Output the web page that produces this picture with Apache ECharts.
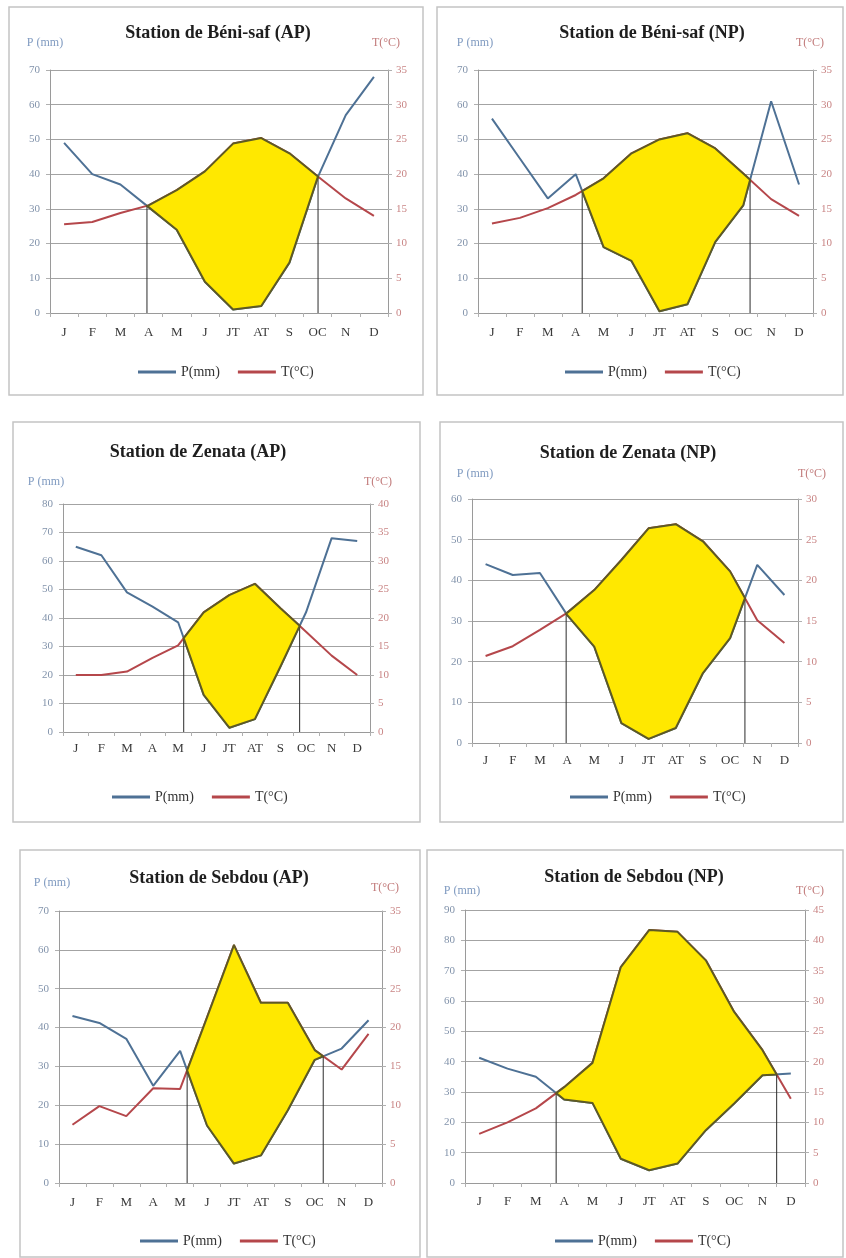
<!DOCTYPE html>
<html><head><meta charset="utf-8">
<script src="https://cdn.jsdelivr.net/npm/echarts@6/dist/echarts.min.js"></script>
<style>html,body{margin:0;padding:0;background:#fff}#c{width:846px;height:1258px}</style>
</head><body><div id="c"></div>
<script>
// ---------- data ----------
const months = ['J','F','M','A','M','J','JT','AT','S','OC','N','D'];
const seriesNames = ['P(mm)', 'T(°C)'];
const axisNames = ['P (mm)', 'T(°C)'];

const titleBeniAP = 'Station de Béni-saf (AP)';
const pBeniAP = [49, 40, 37, 30.5, 24, 9, 1, 2, 14.5, 39, 57, 68];
const tBeniAP = [12.8, 13.1, 14.4, 15.5, 17.7, 20.4, 24.4, 25.2, 23, 19.7, 16.5, 14];

const titleBeniNP = 'Station de Béni-saf (NP)';
const pBeniNP = [56, 44.5, 33, 40, 19, 15, 0.5, 2.5, 20.5, 31, 61, 37];
const tBeniNP = [12.9, 13.7, 15.1, 17, 19.4, 23, 25, 25.9, 23.7, 20.1, 16.4, 14];

const titleZenAP = 'Station de Zenata (AP)';
const pZenAP = [65, 62, 49, 44, 38.5, 13, 1.5, 4.5, 23, 42, 68, 67];
const tZenAP = [10, 10, 10.6, 13, 15.2, 21, 24, 26, 21.7, 17.6, 13.4, 10];

const titleZenNP = 'Station de Zenata (NP)';
const pZenNP = [44, 41.3, 41.8, 31.5, 23.7, 4.9, 1, 3.7, 17.2, 25.8, 43.8, 36.4];
const tZenNP = [10.7, 11.9, 13.9, 16, 18.8, 22.5, 26.4, 26.9, 24.8, 21.1, 15.1, 12.3];

const titleSebAP = 'Station de Sebdou (AP)';
const pSebAP = [43, 41.2, 37.1, 25, 34, 14.8, 5, 7.1, 18.7, 31.7, 34.6, 41.9];
const tSebAP = [7.5, 9.9, 8.6, 12.2, 12.1, 21.3, 30.6, 23.2, 23.2, 17.1, 14.6, 19.2];

const titleSebNP = 'Station de Sebdou (NP)';
const pSebNP = [41.3, 37.7, 35, 27.5, 26.4, 8, 4.2, 6.4, 17.4, 26.2, 35.5, 36.1];
const tSebNP = [8.1, 10, 12.3, 15.8, 19.8, 35.6, 41.7, 41.4, 36.7, 28.2, 21.9, 13.9];

const pMaxes = [70, 70, 80, 60, 70, 90];
const tMaxes = [35, 35, 40, 30, 35, 45];
const pInterval = 10, tInterval = 5;

// ---------- layout ----------
const panels = [
  {title: titleBeniAP, p: pBeniAP, t: tBeniAP, grid:{left:50, top:70, width:338, height:243},
   titleXY:[218,33], pNameXY:[45,43], tNameXY:[386,43], legend:{left:133, top:360}, border:[9,7,414,388], lblMargin:13},
  {title: titleBeniNP, p: pBeniNP, t: tBeniNP, grid:{left:478, top:70, width:335, height:243},
   titleXY:[652,33], pNameXY:[475,43], tNameXY:[810,43], legend:{left:560, top:360}, border:[437,7,406,388], lblMargin:13},
  {title: titleZenAP, p: pZenAP, t: tZenAP, grid:{left:63, top:504, width:307, height:228},
   titleXY:[198,452], pNameXY:[46,482], tNameXY:[378,482], legend:{left:107, top:785}, border:[13,422,407,400], lblMargin:10},
  {title: titleZenNP, p: pZenNP, t: tZenNP, grid:{left:472, top:499, width:326, height:244},
   titleXY:[628,453], pNameXY:[475,474], tNameXY:[812,474], legend:{left:565, top:785}, border:[440,422,403,400], lblMargin:11},
  {title: titleSebAP, p: pSebAP, t: tSebAP, grid:{left:59, top:911, width:323, height:272},
   titleXY:[219,878], pNameXY:[52,883], tNameXY:[385,888], legend:{left:135, top:1229}, border:[20,850,400,407], lblMargin:13},
  {title: titleSebNP, p: pSebNP, t: tSebNP, grid:{left:465, top:910, width:340, height:273},
   titleXY:[634,877], pNameXY:[462,891], tNameXY:[810,891], legend:{left:550, top:1229}, border:[427,850,416,407], lblMargin:12}
];

const serif = '"Liberation Serif", "DejaVu Serif", serif';
const colP = '#4e7195', colT = '#b5474b';
const fillCol = '#ffe800', edgeCol = '#5e5a24';

function regionRenderer(pi) {
  return function (params, api) {
    const P = panels[pi].p, T = panels[pi].t;
    const k = pMaxes[pi] / tMaxes[pi];
    const d = P.map((v, i) => k * T[i] - v);
    const polys = [], cross = [];
    let upper = null, lower = null;
    for (let i = 0; i < P.length; i++) {
      if (d[i] > 0) {
        if (!upper) {
          upper = []; lower = [];
          if (i > 0) {
            const f = d[i-1] / (d[i-1] - d[i]);
            const pt = [i - 1 + f, P[i-1] + (P[i] - P[i-1]) * f];
            upper.push(pt); cross.push(pt);
          }
        }
        upper.push([i, k * T[i]]); lower.push([i, P[i]]);
        if (i < P.length - 1 && d[i+1] <= 0) {
          const f = d[i] / (d[i] - d[i+1]);
          const pt = [i + f, P[i] + (P[i+1] - P[i]) * f];
          upper.push(pt); cross.push(pt);
          polys.push(upper.concat(lower.reverse()));
          upper = null; lower = null;
        }
      }
    }
    if (upper) polys.push(upper.concat(lower.reverse()));
    const children = [];
    cross.forEach(c => {
      const a = api.coord(c), b = api.coord([c[0], 0]);
      children.push({type:'line', shape:{x1:a[0], y1:a[1], x2:b[0], y2:b[1]},
        style:{stroke:'#2b2b2b', lineWidth:1}});
    });
    polys.forEach(poly => {
      children.push({type:'polygon', shape:{points: poly.map(q => api.coord(q))},
        style:{fill: fillCol, stroke: edgeCol, lineWidth: 2, lineJoin:'round'}});
    });
    return {type:'group', children};
  };
}

const grid = [], xAxis = [], yAxis = [], series = [], legend = [], graphic = [];
panels.forEach((pn, i) => {
  grid.push(Object.assign({containLabel:false}, pn.grid));
  xAxis.push({type:'category', gridIndex:i, data: months, boundaryGap:true,
    axisLine:{onZero:false, lineStyle:{color:'#9a9a9a', width:1}},
    axisTick:{show:true, length:4, lineStyle:{color:'#b0b0b0'}},
    axisLabel:{color:'#3a3a3a', fontFamily:serif, fontSize:13, margin:pn.lblMargin, interval:0},
    splitLine:{show:false}});
  xAxis.push({type:'value', gridIndex:i, min:-0.5, max:11.5, show:false,
    axisLine:{onZero:false}});
  yAxis.push({type:'value', gridIndex:i, position:'left', min:0, max:pMaxes[i], interval:pInterval,
    axisLine:{show:true, onZero:false, lineStyle:{color:'#9a9a9a'}},
    axisTick:{show:true, length:4, lineStyle:{color:'#b0b0b0'}},
    splitLine:{show:true, lineStyle:{color:'#a3a3a3', width:1}},
    axisLabel:{color:'#8293ab', fontFamily:serif, fontSize:11, margin:10}});
  yAxis.push({type:'value', gridIndex:i, position:'right', min:0, max:tMaxes[i], interval:tInterval,
    axisLine:{show:true, onZero:false, lineStyle:{color:'#9a9a9a'}},
    axisTick:{show:true, length:4, lineStyle:{color:'#b0b0b0'}},
    splitLine:{show:false},
    axisLabel:{color:'#c98585', fontFamily:serif, fontSize:11, margin:8}});
  series.push({name: seriesNames[0], type:'line', xAxisIndex:2*i, yAxisIndex:2*i, data: pn.p,
    symbol:'none', lineStyle:{color:colP, width:2}, itemStyle:{color:colP}, z:2, animation:false});
  series.push({name: seriesNames[1], type:'line', xAxisIndex:2*i, yAxisIndex:2*i+1, data: pn.t,
    symbol:'none', lineStyle:{color:colT, width:2}, itemStyle:{color:colT}, z:2, animation:false});
  series.push({type:'custom', xAxisIndex:2*i+1, yAxisIndex:2*i, data:[[0,0]], clip:false,
    renderItem: regionRenderer(i), z:3, silent:true, animation:false});
  legend.push({data: seriesNames, left: pn.legend.left, top: pn.legend.top, icon:'rect',
    itemWidth:38, itemHeight:3, itemGap:18, selectedMode:false,
    textStyle:{fontFamily:serif, fontSize:14, color:'#333'}});
  const b = pn.border;
  graphic.push({type:'rect', shape:{x:b[0], y:b[1], width:b[2], height:b[3]},
    style:{fill:'none', stroke:'#c4c4c4', lineWidth:1.5}, z:-1});
  graphic.push({type:'text', x:pn.titleXY[0], y:pn.titleXY[1],
    style:{text: pn.title, align:'center', verticalAlign:'middle', fill:'#1e1e1e',
      font:'bold 18px ' + serif}});
  graphic.push({type:'text', x:pn.pNameXY[0], y:pn.pNameXY[1],
    style:{text: axisNames[0], align:'center', verticalAlign:'middle', fill:'#7f9ac0',
      font:'12px ' + serif}});
  graphic.push({type:'text', x:pn.tNameXY[0], y:pn.tNameXY[1],
    style:{text: axisNames[1], align:'center', verticalAlign:'middle', fill:'#c27c7c',
      font:'12px ' + serif}});
});

const chart = echarts.init(document.getElementById('c'), null, {renderer:'canvas'});
chart.setOption({backgroundColor:'#ffffff', animation:false, grid, xAxis, yAxis, series, legend, graphic});
</script>
</body></html>
